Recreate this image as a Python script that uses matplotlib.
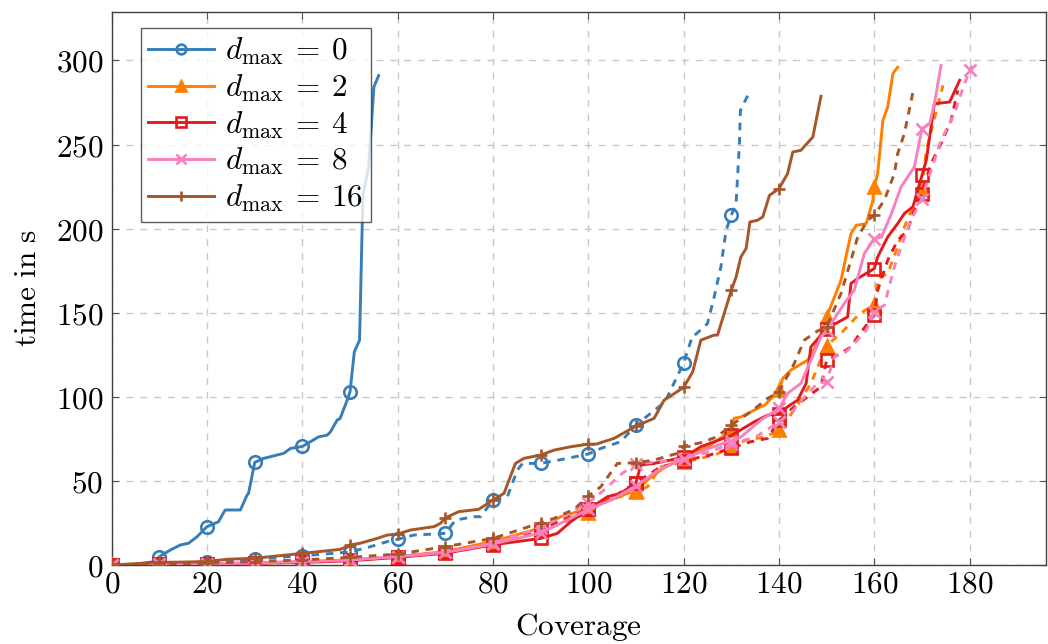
import matplotlib
matplotlib.use("Agg")
import matplotlib.pyplot as plt
import numpy as np

plt.rcParams['mathtext.fontset'] = 'cm'

# ---- data -------------------------------------------------------------
d0_solid_x = [0, 5, 9, 10, 12.3, 14.4, 16.1, 17.9, 20, 22.4, 23.8, 27, 28.4, 28.7, 30, 31.9, 36.1, 37.5, 40,
              41.7, 43.4, 45.2, 45.9, 47.3, 47.9, 49.4, 50, 50.9, 52.0, 52.7, 53.9, 55, 56]
d0_solid_y = [0, 0.5, 2, 5, 8.9, 11.9, 12.9, 16.8, 22.8, 25.7, 32.7, 32.7, 41.6, 42.5, 61, 63.4, 66.4, 69.3, 70.5,
              73.3, 76.2, 77.2, 79.2, 86.2, 87, 98, 103, 126.7, 133.7, 219.8, 236.7, 284.2, 291]

d0_dash_x = [0, 10, 20, 30, 40, 50, 54.3, 57.8, 60, 63.4, 67.6, 70, 72.1, 76, 77.4, 80, 83, 85.1, 86.2, 90, 95.6,
             100, 102.6, 106.8, 110, 115.2, 116.6, 120, 121.9, 122.6, 125, 126.4, 127.8, 128.9, 130, 131, 131.7,
             131.9, 133.8]
d0_dash_y = [0, 0.5, 2, 3.5, 5.5, 7.7, 10.9, 13.9, 15.3, 17.8, 18.4, 18.8, 26.7, 28.7, 28.7, 38.6, 40.6, 56.4, 60.4,
             60.4, 63.4, 66, 69.3, 73.3, 83.2, 95, 100, 120.2, 136.7, 137.3, 143.6, 159.4, 177.2, 199, 208, 215,
             250.6, 270.3, 281.2]

d2_solid_x = [0, 10, 20, 30, 40, 50, 60, 70, 80, 90, 94.2, 100, 104.7, 108.2, 110, 113, 116, 120, 125, 130, 130.6,
              132, 136.2, 137, 140, 140.8, 142.5, 146, 148.1, 150, 153, 155.1, 156.2, 158.3, 159.7, 160, 160.7,
              161.8, 162.8, 163.9, 164.9]
d2_solid_y = [0, 0.3, 0.8, 1.2, 2, 3, 5, 8, 14, 22, 28.7, 33.7, 38.6, 42.6, 44, 52, 58, 64, 70, 80, 87.2,
              88, 94.1, 95, 104, 111, 115.9, 121.8, 131.7, 147.5, 169.3, 197, 202, 203, 216.9, 224.8, 232.7,
              264.4, 272.3, 292.2, 296]

d2_dash_x = [0, 10, 20, 30, 40, 50, 60, 70, 80, 90, 100, 102.6, 106, 110, 112.4, 115.2, 118, 120, 123.6, 127, 130,
             133.1, 137, 140, 143.2, 146.7, 150, 153, 156.9, 160, 160.7, 162.8, 164.9, 166.3, 168.4, 170, 170.9,
             172.6, 174.4]
d2_dash_y = [0, 0.3, 0.8, 1.2, 2, 3, 5, 7.5, 13, 20, 31, 36.7, 40, 43.6, 46.5, 58.4, 60, 61, 63.4, 66, 70.3,
             74.3, 76, 80.2, 92.1, 108, 130.5, 137.7, 149.5, 154.5, 170.3, 173.3, 189.1, 201, 215, 223.8, 246.6,
             265.4, 285.2]

d4_solid_x = [0, 10, 20, 30, 40, 50, 60, 70, 80, 90, 93.5, 96.3, 100, 104, 106.8, 110, 111, 113.8, 120, 123.6,
              126.4, 130, 134.8, 137.6, 140, 141.8, 143.9, 145.7, 146.7, 150, 154.4, 155.1, 156.5, 160, 160.7,
              162.8, 164.9, 166.3, 168.1, 170, 170.9, 172.6, 175.8, 177.9]
d4_solid_y = [0, 0.3, 0.8, 1, 1.5, 2.5, 4.5, 7, 12, 15.8, 18.8, 25.7, 33, 40.6, 42.6, 48.9, 59.4, 60.4, 64, 70.3,
              73.3, 77, 85.1, 89.1, 90, 94.1, 98, 108, 129.7, 140.6, 147.5, 167.4, 170.3, 176.3, 183.2,
              195, 203, 209, 213, 231.7, 240.6, 274.3, 275.3, 288.2]

d4_dash_x = [0, 10, 20, 30, 40, 50, 60, 70, 80, 90, 100, 105, 110, 115, 120, 125, 130, 134.1, 137.6, 140, 143.2,
             146, 148.8, 150, 153, 155.1, 156.5, 158.6, 160, 160.7, 162.8, 164.9, 167, 168.1, 170, 171.9, 174,
             176.1, 177.5]
d4_dash_y = [0, 0.3, 0.8, 1.2, 2, 3, 5, 7.5, 12.5, 21.5, 33, 40, 49, 58, 62, 65, 69.5, 73.3, 75.3, 86, 94.1,
             100, 106, 121.8, 125.8, 129.7, 135.7, 143.6, 148.5, 163.4, 181.2, 193.1, 199, 209, 220.9, 238.7,
             250.6, 264.4, 282.2]

d8_solid_x = [0, 10, 20, 30, 40, 50, 60, 70, 80, 90, 100, 105, 110, 115, 120, 125, 130, 132, 136.2, 140, 141.8,
              144.6, 146.7, 148.8, 150, 153.7, 155.8, 157.9, 160, 161.5, 163.6, 165.6, 168.4, 170, 171.6, 172.6,
              174]
d8_solid_y = [0, 0.3, 0.8, 1.2, 2, 3, 5, 7.5, 12.5, 19, 33, 39, 47, 57, 63, 69, 74, 76, 86.2, 93.1, 102,
              108, 121.8, 135.7, 139.6, 155.5, 163.4, 185.2, 194.1, 195, 209, 224.8, 236.7, 259.5, 262.4, 274.3,
              297]

d8_dash_x = [0, 10, 20, 30, 40, 50, 60, 70, 80, 90, 100, 103.3, 107.1, 110, 115, 120, 125, 130, 135, 140, 143,
             146, 148.1, 150, 151.6, 153.7, 155.8, 158.3, 160, 162.1, 164.2, 165.6, 167.7, 170, 171.9, 174,
             176.8, 178.2, 180, 180.5]
d8_dash_y = [0, 0.3, 0.8, 1.2, 2, 3, 5, 7.5, 13, 22, 37, 44.6, 54.5, 60, 61.5, 63, 67, 72, 76, 85, 92,
             102, 108, 108.9, 123.8, 125.8, 131.7, 139.6, 150.5, 154.5, 177.2, 189.1, 205, 217.9, 234.7, 252.5,
             268.4, 280.3, 294.1, 297]

d16_solid_x = [0, 10, 20, 24.2, 30, 40, 48, 50, 52.1, 55.7, 57.8, 60, 62.7, 67.6, 69, 70, 72.8, 77, 80, 82.3,
               84.7, 86.5, 90, 92.8, 96.3, 100, 101.7, 105.4, 110, 113.8, 115.9, 120, 121.9, 123.6, 126.4, 127.1,
               128.5, 130, 131, 132, 133.1, 133.9, 135.5, 136.6, 138, 140, 141.8, 142.9, 144.6, 147.1, 148.8]
d16_solid_y = [0, 1.5, 2, 3.4, 4, 6.9, 9.3, 11.9, 12.9, 15.8, 17.8, 18.4, 20.8, 22.8, 24.8, 28, 31.7, 33.1, 38.6,
               42.6, 60.4, 63.4, 65.4, 68.3, 70.3, 71.9, 71.9, 75.3, 82.6, 87.2, 98, 105.6, 114.9, 133.7, 136.7,
               136.7, 149.5, 163.4, 171.3, 183.2, 188.2, 204, 205, 207, 219.8, 223.8, 232.7, 245.6, 246.6, 254.5,
               278.7]

d16_dash_x = [0, 10, 20, 30, 40, 50, 60, 70, 80, 90, 92.8, 97, 100, 102.6, 106.1, 110, 113.8, 118.7, 120, 123.6,
              127, 130, 134.1, 137.6, 140, 143.2, 145.3, 148, 150, 153, 155.1, 156.5, 158.6, 160, 162.1, 164.2,
              164.9, 166.3, 168.1]
d16_dash_y = [0, 0.5, 1, 2, 3, 4.5, 6.5, 10.9, 15.8, 25.1, 27.7, 33.1, 41, 46.5, 60.4, 60.8, 62.4, 66.4, 70.7,
              72.7, 76.2, 83.2, 91.1, 99, 103, 119.8, 133.7, 139, 141.6, 161.4, 181.2, 195, 205, 208, 216.9,
              232.7, 244.6, 256.5, 281.2]

labels = [r'$d_{\max}\:=\:0$', r'$d_{\max}\:=\:2$', r'$d_{\max}\:=\:4$', r'$d_{\max}\:=\:8$', r'$d_{\max}\:=\:16$']
x_ticks = [0, 20, 40, 60, 80, 100, 120, 140, 160, 180]
y_ticks = [0, 50, 100, 150, 200, 250, 300]

# ---- styles -----------------------------------------------------------
colors = ['#377eb8', '#ff7f00', '#e41a1c', '#f781bf', '#a65628']
markers = ['o', '^', 's', 'x', '+']
filled = [False, True, False, True, True]

series = [
    (d0_solid_x, d0_solid_y, d0_dash_x, d0_dash_y),
    (d2_solid_x, d2_solid_y, d2_dash_x, d2_dash_y),
    (d4_solid_x, d4_solid_y, d4_dash_x, d4_dash_y),
    (d8_solid_x, d8_solid_y, d8_dash_x, d8_dash_y),
    (d16_solid_x, d16_solid_y, d16_dash_x, d16_dash_y),
]

fig = plt.figure(figsize=(10.48, 6.44), dpi=100)
ax = fig.add_axes([0.1066, 0.1227, 0.8914, 0.8591])

def marks(xs):
    return [i for i, v in enumerate(xs) if abs(v / 10 - round(v / 10)) < 1e-9]

handles = []
for i, (sx, sy, dx, dy) in enumerate(series):
    c = colors[i]
    kw = dict(color=c, marker=markers[i], markersize=9, markeredgewidth=1.9,
              markerfacecolor=(c if filled[i] else 'none'), markeredgecolor=c, lw=2.1)
    h, = ax.plot(sx, sy, markevery=marks(sx), label=labels[i], zorder=3 + i, **kw)
    ax.plot(dx, dy, markevery=marks(dx), linestyle=(0, (2.6, 2.3)), zorder=3 + i, **kw)
    handles.append(h)

ax.set_xlim(0, 196)
ax.set_ylim(0, 329)
ax.set_xticks(x_ticks)
ax.set_yticks(y_ticks)
ax.set_xticklabels([f'${t}$' for t in x_ticks])
ax.set_yticklabels([f'${t}$' for t in y_ticks])
ax.tick_params(direction='in', length=5, width=0.8, color='#555555', labelsize=22.5,
               top=True, right=True)
ax.tick_params(axis='x', pad=3)
ax.tick_params(axis='y', pad=6)
ax.grid(True, color='#c8c8c8', linestyle=(0, (5, 5)), linewidth=1.0)
for s in ax.spines.values():
    s.set_color('#404040')
    s.set_linewidth(1.0)

ax.set_xlabel(r'$\mathrm{Coverage}$', fontsize=22.5, labelpad=9)
ax.set_ylabel(r'$\mathrm{time\ in\ s}$', fontsize=22.5, labelpad=10)

leg = ax.legend(handles=handles, loc='upper left', bbox_to_anchor=(0.031, 0.97),
                fontsize=22.5, frameon=True, fancybox=False, edgecolor='#333333',
                handlelength=2.1, handletextpad=0.35, borderpad=0.25, labelspacing=0.17,
                borderaxespad=0.0)
leg.get_frame().set_linewidth(1.0)
for lh in leg.get_lines():
    lh.set_markersize(7)

fig.savefig('out.png', dpi=100)
